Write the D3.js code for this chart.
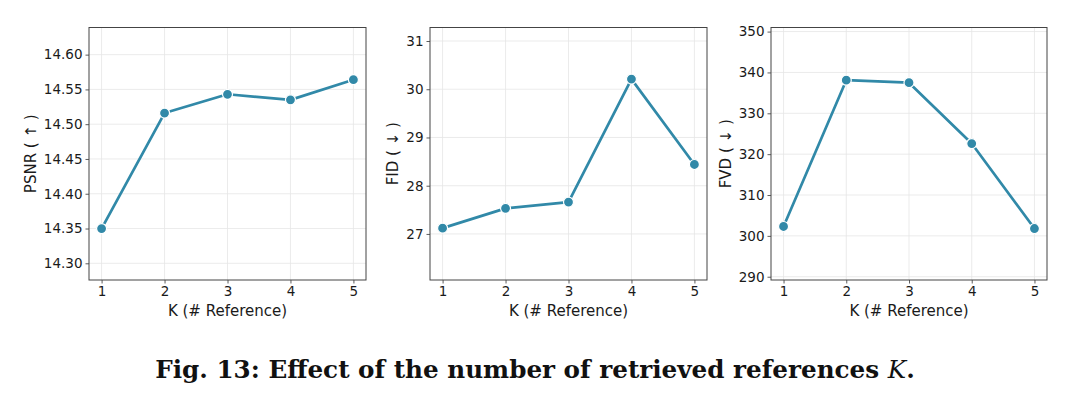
<!DOCTYPE html>
<html><head><meta charset="utf-8">
<script src="https://cdn.jsdelivr.net/npm/d3@7"></script>
<style>body{margin:0;background:#fff;} svg{display:block;}</style>
</head><body>
<svg id="chart" width="1070" height="400"></svg>
<script>
const kValues = [1, 2, 3, 4, 5];
const psnr = [14.350, 14.516, 14.543, 14.535, 14.564];
const fid = [27.12, 27.53, 27.66, 30.21, 28.44];
const fvd = [302.3, 338.1, 337.5, 322.6, 301.8];
const psnrTicks = [14.30, 14.35, 14.40, 14.45, 14.50, 14.55, 14.60];
const fidTicks = [27, 28, 29, 30, 31];
const fvdTicks = [290, 300, 310, 320, 330, 340, 350];
const xLabel = "K (# Reference)";
const caption = "Fig. 13: Effect of the number of retrieved references ";

const panels = [
  {left: 89, right: 366, domain: [14.276, 14.639], values: psnr, ticks: psnrTicks, fmt: d3.format(".2f"), label: "PSNR ( ↑ )", labelX: 31},
  {left: 430, right: 707, domain: [26.045, 31.28], values: fid, ticks: fidTicks, fmt: d3.format("d"), label: "FID ( ↓ )", labelX: 393},
  {left: 771, right: 1047, domain: [289.2, 351.0], values: fvd, ticks: fvdTicks, fmt: d3.format("d"), label: "FVD ( ↓ )", labelX: 726}
];
const plotTop = 27.5, plotBottom = 280;
const color = "#3189a8";
const svg = d3.select("#chart");

panels.forEach(p => {
  const x = d3.scaleLinear().domain([0.8, 5.2]).range([p.left, p.right]);
  const y = d3.scaleLinear().domain(p.domain).range([plotBottom, plotTop]);
  const g = svg.append("g");
  g.selectAll(".gx").data(kValues).join("line")
    .attr("x1", d => x(d)).attr("x2", d => x(d)).attr("y1", plotTop).attr("y2", plotBottom)
    .attr("stroke", "#e6e6e6").attr("stroke-width", 0.8);
  g.selectAll(".gy").data(p.ticks).join("line")
    .attr("x1", p.left).attr("x2", p.right).attr("y1", d => y(d)).attr("y2", d => y(d))
    .attr("stroke", "#e6e6e6").attr("stroke-width", 0.8);
  const xa = g.append("g").attr("transform", `translate(0,${plotBottom})`)
    .call(d3.axisBottom(x).tickValues(kValues).tickFormat(d3.format("d")).tickSize(3.5).tickPadding(3));
  const ya = g.append("g").attr("transform", `translate(${p.left},0)`)
    .call(d3.axisLeft(y).tickValues(p.ticks).tickFormat(p.fmt).tickSize(3.5).tickPadding(3));
  [xa, ya].forEach(a => {
    a.select(".domain").remove();
    a.selectAll(".tick line").attr("stroke", "#333").attr("stroke-width", 0.8);
    a.selectAll("text").attr("font-family", "DejaVu Sans").attr("font-size", 13.5).attr("fill", "#1a1a1a");
  });
  g.append("rect").attr("x", p.left).attr("y", plotTop).attr("width", p.right - p.left).attr("height", plotBottom - plotTop)
    .attr("fill", "none").attr("stroke", "#444").attr("stroke-width", 1);
  const pts = kValues.map((k, i) => [k, p.values[i]]);
  g.append("path").datum(pts)
    .attr("d", d3.line().x(d => x(d[0])).y(d => y(d[1])))
    .attr("fill", "none").attr("stroke", color).attr("stroke-width", 2.7).attr("stroke-linejoin", "round");
  g.selectAll(".pt").data(pts).join("circle")
    .attr("cx", d => x(d[0])).attr("cy", d => y(d[1])).attr("r", 5)
    .attr("fill", color).attr("stroke", "#fff").attr("stroke-width", 1.2);
  g.append("text").attr("x", (p.left + p.right) / 2).attr("y", 316)
    .attr("text-anchor", "middle").attr("font-family", "DejaVu Sans").attr("font-size", 15).attr("fill", "#1a1a1a")
    .text(xLabel);
  g.append("text").attr("transform", `translate(${p.labelX},${(plotTop + plotBottom) / 2}) rotate(-90)`)
    .attr("text-anchor", "middle").attr("dominant-baseline", "central").attr("font-family", "DejaVu Sans").attr("font-size", 15).attr("fill", "#1a1a1a")
    .text(p.label);
});

const cap = svg.append("text").attr("x", 535).attr("y", 378).attr("text-anchor", "middle")
  .attr("font-family", "DejaVu Serif").attr("font-size", 22).attr("font-weight", "bold").attr("fill", "#111");
cap.append("tspan").text(caption);
cap.append("tspan").attr("font-style", "italic").attr("font-weight", "normal").text("K");
cap.append("tspan").text(".");
const targetW = 760;
const w = cap.node().getComputedTextLength();
if (w > 0) cap.attr("font-size", 22 * targetW / w);
</script>
</body></html>
